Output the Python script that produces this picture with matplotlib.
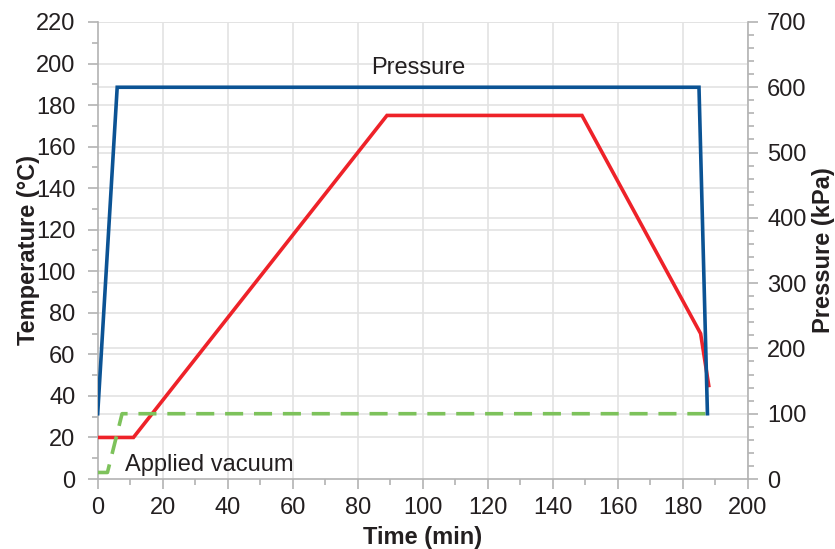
import matplotlib
matplotlib.use("Agg")
import matplotlib.pyplot as plt
from matplotlib.ticker import MultipleLocator

plt.rcParams['font.family'] = ['Liberation Sans', 'DejaVu Sans']

# Data
temp_time = [0, 11, 89, 149, 185.5, 188]
temp_vals = [20, 20, 175, 175, 70, 45]

press_time = [0, 6, 185, 187.6]
press_vals = [100, 600, 600, 100]

vac_time = [0, 3, 7.5, 187.5]
vac_vals = [10, 10, 100, 100]

BLUE = '#0b5394'
RED = '#ee2229'
GREEN = '#7dc25b'
GRID = '#e3e3e3'
SPINE = '#b3b3b3'
TXT = '#231f20'
FS = 17

fig = plt.figure(figsize=(8.35, 5.49), dpi=100)
ax = fig.add_axes([0.117, 0.1275, 0.7785, 0.8325])
ax2 = ax.twinx()

ax.set_xlim(0, 200)
ax.set_ylim(0, 220)
ax2.set_ylim(0, 700)

# grid lines (all on the primary axes so they stay beneath every line)
for y in range(20, 221, 20):
    ax.axhline(y, color=GRID, lw=1.2, zorder=0)
for x in range(20, 201, 20):
    ax.axvline(x, color=GRID, lw=1.2, zorder=0)
for p in range(100, 701, 100):
    ax.axhline(p * 220 / 700, color=GRID, lw=1.2, zorder=0)

ax.plot(temp_time, temp_vals, color=RED, lw=2.6, solid_joinstyle='miter', zorder=3)
ax2.plot(vac_time, vac_vals, color=GREEN, lw=2.6, dashes=(5, 3), zorder=2)
ax2.plot(press_time, press_vals, color=BLUE, lw=2.6, solid_joinstyle='miter', zorder=3)

for a in (ax, ax2):
    a.spines['top'].set_visible(False)
    for s in ('left', 'right', 'bottom'):
        a.spines[s].set_color(SPINE)
        a.spines[s].set_linewidth(1.2)
ax.spines['right'].set_visible(False)
ax2.spines['left'].set_visible(False)
ax2.spines['bottom'].set_visible(False)

ax.xaxis.set_major_locator(MultipleLocator(20))
ax.xaxis.set_minor_locator(MultipleLocator(10))
ax.yaxis.set_major_locator(MultipleLocator(20))
ax.yaxis.set_minor_locator(MultipleLocator(10))
ax2.yaxis.set_major_locator(MultipleLocator(100))
ax2.yaxis.set_minor_locator(MultipleLocator(20))

ax.tick_params(axis='x', which='major', length=7, width=1.2, color=SPINE,
               labelsize=FS, labelcolor=TXT, pad=6)
ax.tick_params(axis='y', which='major', length=7, width=1.2, color=SPINE,
               labelsize=FS, labelcolor=TXT, pad=9)
ax.tick_params(axis='both', which='minor', length=4, width=1.2, color=SPINE)
ax2.tick_params(axis='y', which='major', length=7, width=1.2, color=SPINE,
                labelsize=FS, labelcolor=TXT, pad=7)
ax2.tick_params(axis='y', which='minor', length=4, width=1.2, color=SPINE)

ax.set_xlabel('Time (min)', fontsize=FS, fontweight='bold', color=TXT)
ax.set_ylabel('Temperature (°C)', fontsize=FS, fontweight='bold', color=TXT)
ax2.set_ylabel('Pressure (kPa)', fontsize=FS, fontweight='bold', color=TXT)
ax.xaxis.set_label_coords(0.5, -0.127)
ax.xaxis.label.set_va('center')
ax.yaxis.set_label_coords(-0.107, 0.5)
ax.yaxis.label.set_va('center')
ax2.yaxis.set_label_coords(1.116, 0.5)
ax2.yaxis.label.set_va('center')

ax.text(98.5, 198, 'Pressure', fontsize=FS, color=TXT, ha='center', va='center')
ax.text(8.5, 6.5, 'Applied vacuum', fontsize=FS, color=TXT, ha='left', va='center')

fig.savefig('out.png', dpi=100)
